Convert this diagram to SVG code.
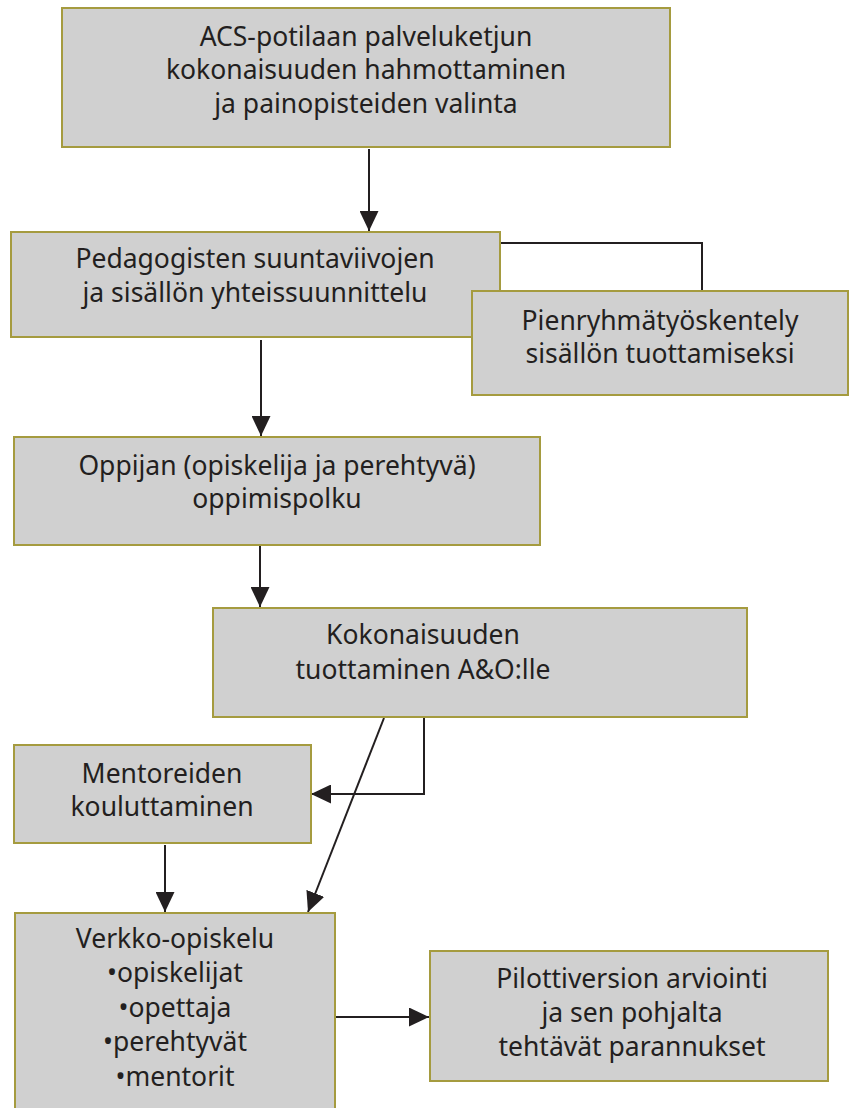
<svg xmlns="http://www.w3.org/2000/svg" width="849" height="1108" viewBox="0 0 849 1108">
  <style>
    .box { fill: #d0d0d0; stroke: #a59b3f; stroke-width: 2; }
    .lbl { font-family: "Noto Sans", "Open Sans", sans-serif; font-size: 26.5px; fill: #231f20; text-anchor: middle; }
    .wire { fill: none; stroke: #231f20; stroke-width: 2; }
  </style>
  <defs>
    <marker id="arrow" viewBox="0 0 20 19" refX="20" refY="9.5" markerWidth="20" markerHeight="19" markerUnits="userSpaceOnUse" orient="auto">
      <path d="M0,0 L20,9.5 L0,19 Z" fill="#231f20"/>
    </marker>
  </defs>
  <rect width="849" height="1108" fill="#ffffff"/>

  <g id="connectors">
    <line class="wire" x1="369" y1="149" x2="369" y2="231" marker-end="url(#arrow)"/>
    <polyline class="wire" points="500,243 702,243 702,291"/>
    <line class="wire" x1="261" y1="340" x2="261" y2="436" marker-end="url(#arrow)"/>
    <line class="wire" x1="260" y1="546" x2="260" y2="607" marker-end="url(#arrow)"/>
    <polyline class="wire" points="424,718 424,794 311,794" marker-end="url(#arrow)"/>
    <line class="wire" x1="384" y1="718" x2="308" y2="912" marker-end="url(#arrow)"/>
    <line class="wire" x1="165" y1="845" x2="165" y2="912" marker-end="url(#arrow)"/>
    <line class="wire" x1="336" y1="1017" x2="429" y2="1017" marker-end="url(#arrow)"/>
  </g>

  <g id="acs-palveluketju">
    <rect class="box" x="62" y="8" width="608" height="139"/>
    <text class="lbl" x="366" y="46">ACS-potilaan palveluketjun</text>
    <text class="lbl" x="366" y="79">kokonaisuuden hahmottaminen</text>
    <text class="lbl" x="366" y="113">ja painopisteiden valinta</text>
  </g>

  <g id="pedagogiset-suuntaviivat">
    <rect class="box" x="11" y="232" width="489" height="105"/>
    <text class="lbl" x="255" y="268">Pedagogisten suuntaviivojen</text>
    <text class="lbl" x="255" y="302">ja sisällön yhteissuunnittelu</text>
  </g>

  <g id="pienryhmatyoskentely">
    <rect class="box" x="472" y="291" width="376" height="104"/>
    <text class="lbl" x="660" y="330">Pienryhmätyöskentely</text>
    <text class="lbl" x="660" y="363">sisällön tuottamiseksi</text>
  </g>

  <g id="oppimispolku">
    <rect class="box" x="14" y="437" width="526" height="108"/>
    <text class="lbl" x="277" y="475">Oppijan (opiskelija ja perehtyvä)</text>
    <text class="lbl" x="277" y="508">oppimispolku</text>
  </g>

  <g id="kokonaisuuden-tuottaminen">
    <rect class="box" x="213" y="608" width="534" height="109"/>
    <text class="lbl" x="423" y="644">Kokonaisuuden</text>
    <text class="lbl" x="423" y="679">tuottaminen A&amp;O:lle</text>
  </g>

  <g id="mentorit">
    <rect class="box" x="14" y="745" width="297" height="98"/>
    <text class="lbl" x="162" y="783">Mentoreiden</text>
    <text class="lbl" x="162" y="816">kouluttaminen</text>
  </g>

  <g id="verkko-opiskelu">
    <rect class="box" x="15" y="913" width="320" height="210"/>
    <text class="lbl" x="175" y="948">Verkko-opiskelu</text>
    <text class="lbl" x="175" y="982">•opiskelijat</text>
    <text class="lbl" x="175" y="1017">•opettaja</text>
    <text class="lbl" x="175" y="1051">•perehtyvät</text>
    <text class="lbl" x="175" y="1086">•mentorit</text>
  </g>

  <g id="pilotti-arviointi">
    <rect class="box" x="430" y="951" width="398" height="130"/>
    <text class="lbl" x="632" y="988">Pilottiversion arviointi</text>
    <text class="lbl" x="632" y="1022">ja sen pohjalta</text>
    <text class="lbl" x="632" y="1056">tehtävät parannukset</text>
  </g>
</svg>
